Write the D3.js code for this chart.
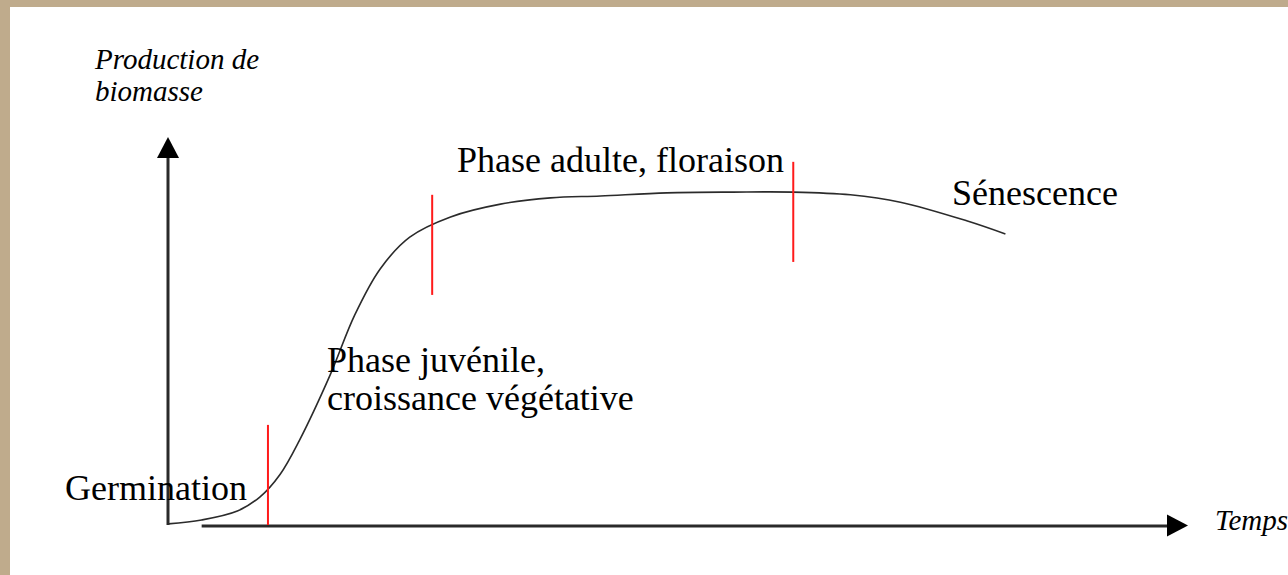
<!DOCTYPE html>
<html>
<head>
<meta charset="utf-8">
<script src="https://cdn.jsdelivr.net/npm/d3@7"></script>
<style>
  html, body { margin: 0; padding: 0; background: #BFAB8C; }
  svg { display: block; }
</style>
</head>
<body>
<svg id="chart" width="1288" height="575"></svg>
<script>
// ---- data ----
const timeValues    = [0, 3.3, 6.8, 9.0, 11.0, 12.9, 15.9, 18.3, 20.8, 23.7, 27.7, 32.6, 37.5, 42.4, 48.9, 55.4, 61.3, 66.9, 71.8, 78.3, 82.1];
const biomassValues = [0.3, 1.3, 3.6, 7.2, 13.1, 21.9, 38.7, 54.1, 66.0, 74.2, 79.4, 82.7, 84.3, 84.8, 85.6, 85.8, 85.8, 85.1, 83.2, 78.4, 75.0];
const phaseBoundaryTimes = [9.8, 25.9, 61.3];
const phaseBoundaryLow   = [0, 59.3, 67.8];
const phaseBoundaryHigh  = [25.8, 85.1, 93.6];
const phaseLabels = [["Germination"], ["Phase juvénile,", "croissance végétative"], ["Phase adulte, floraison"], ["Sénescence"]];
const yAxisTitle = ["Production de", "biomasse"];
const xAxisTitle = "Temps";
const timeDomain = [0, 100];
const biomassDomain = [0, 100];
const xAxisStart = 3.3;

const svg = d3.select("#chart");
svg.append("rect").attr("x", 10).attr("y", 7).attr("width", 1278).attr("height", 568).attr("fill", "#ffffff");

const x = d3.scaleLinear().domain(timeDomain).range([168, 1188]);
const y = d3.scaleLinear().domain(biomassDomain).range([525, 137]);

const axisColor = "#2a2a2a";
// y axis
svg.append("line")
  .attr("x1", x(0)).attr("x2", x(0))
  .attr("y1", y(0)).attr("y2", y(100) + 16)
  .attr("stroke", axisColor).attr("stroke-width", 3);
svg.append("path")
  .attr("d", `M${x(0)},${y(100)} L${x(0) - 11},${y(100) + 21} L${x(0) + 11},${y(100) + 21} Z`)
  .attr("fill", "#000");
// x axis
svg.append("line")
  .attr("x1", x(xAxisStart)).attr("x2", x(100) - 16)
  .attr("y1", y(0) + 1).attr("y2", y(0) + 1)
  .attr("stroke", axisColor).attr("stroke-width", 3);
svg.append("path")
  .attr("d", `M${x(100)},${y(0) + 0.5} L${x(100) - 21},${y(0) + 0.5 - 11} L${x(100) - 21},${y(0) + 0.5 + 11} Z`)
  .attr("fill", "#000");

// curve
const pts = timeValues.map((t, i) => [t, biomassValues[i]]);
const line = d3.line().x(d => x(d[0])).y(d => y(d[1])).curve(d3.curveCatmullRom.alpha(0.5));
svg.append("path").attr("d", line(pts))
  .attr("fill", "none").attr("stroke", "#2b2b2b").attr("stroke-width", 1.6);

// phase boundaries
svg.selectAll("line.phase").data(phaseBoundaryTimes).join("line")
  .attr("class", "phase")
  .attr("x1", d => x(d)).attr("x2", d => x(d))
  .attr("y1", (d, i) => y(phaseBoundaryLow[i])).attr("y2", (d, i) => y(phaseBoundaryHigh[i]))
  .attr("stroke", "#ff1a1a").attr("stroke-width", 2);

// labels
const labelPos = [[65, 500], [327, 372], [457, 172], [952, 205]];
const reg = "'Liberation Serif', 'Times New Roman', serif";
phaseLabels.forEach((lines, i) => {
  const t = svg.append("text")
    .attr("x", labelPos[i][0]).attr("y", labelPos[i][1])
    .attr("font-family", reg).attr("font-size", 36).attr("fill", "#000");
  lines.forEach((l, j) => t.append("tspan").attr("x", labelPos[i][0]).attr("dy", j === 0 ? 0 : 38).text(l));
});
const yt = svg.append("text").attr("x", 95).attr("y", 69)
  .attr("font-family", reg).attr("font-style", "italic").attr("font-size", 29).attr("fill", "#000");
yAxisTitle.forEach((l, j) => yt.append("tspan").attr("x", 95).attr("dy", j === 0 ? 0 : 32).text(l));
svg.append("text").attr("x", 1215).attr("y", 530)
  .attr("font-family", reg).attr("font-style", "italic").attr("font-size", 29).attr("fill", "#000")
  .text(xAxisTitle);
</script>
</body>
</html>
